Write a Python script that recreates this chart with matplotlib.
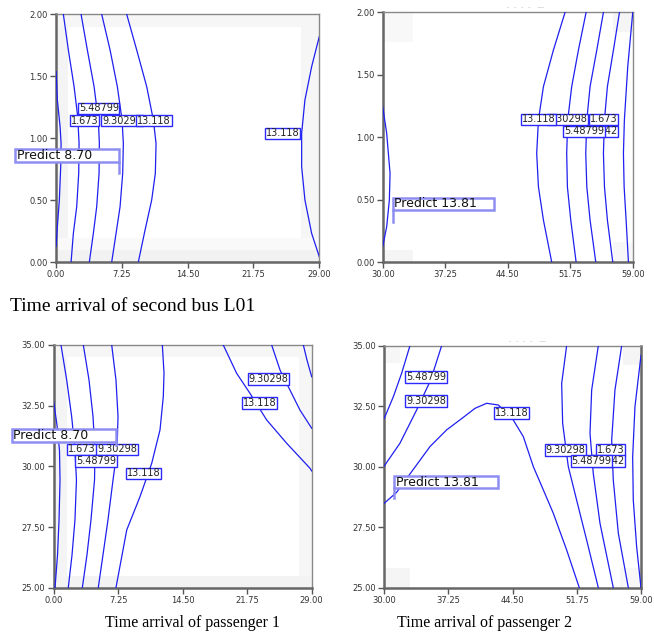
import matplotlib.pyplot as plt
from matplotlib.patches import Rectangle

plt.rcParams['font.family'] = 'DejaVu Sans'

x_ticks_p1 = [0.0, 7.25, 14.5, 21.75, 29.0]
x_ticks_p2 = [30.0, 37.25, 44.5, 51.75, 59.0]
y_ticks_top = [0.0, 0.5, 1.0, 1.5, 2.0]
y_ticks_bot = [25.0, 27.5, 30.0, 32.5, 35.0]

# ---- panel 1 (top left) contour lines ----
p1_m2_x = [0.04, 0.18, 0.48, 0.59, 0.55, 0.40, 0.18, 0.04]
p1_m2_y = [1.537, 1.308, 1.093, 0.958, 0.770, 0.501, 0.285, 0.124]
p1_1_x = [0.84, 1.39, 2.02, 2.42, 2.57, 2.53, 2.31, 1.94, 1.69]
p1_1_y = [2.0, 1.712, 1.416, 1.174, 0.958, 0.716, 0.447, 0.231, 0.0]
p1_5_x = [2.79, 3.48, 4.22, 4.69, 4.80, 4.77, 4.51, 4.14, 3.70]
p1_5_y = [2.0, 1.712, 1.416, 1.147, 0.958, 0.716, 0.447, 0.231, 0.0]
p1_9_x = [5.06, 5.98, 6.78, 7.30, 7.44, 7.37, 7.08, 6.64, 6.16]
p1_9_y = [2.0, 1.712, 1.416, 1.147, 0.958, 0.716, 0.447, 0.231, 0.0]
p1_13_x = [7.81, 8.91, 10.01, 10.74, 11.04, 10.96, 10.56, 9.83, 9.09]
p1_13_y = [2.0, 1.712, 1.416, 1.147, 0.958, 0.716, 0.501, 0.258, 0.0]
p1_13r_x = [29.0, 28.16, 27.42, 27.06, 27.06, 27.42, 28.16, 29.0]
p1_13r_y = [1.820, 1.577, 1.308, 1.039, 0.770, 0.501, 0.231, 0.043]
p1_labels = ['5.48799', '1.673', '9.30298', '13.118', '13.118']
p1_label_x = [4.73, 3.19, 7.30, 10.81, 24.93]
p1_label_y = [1.241, 1.141, 1.141, 1.141, 1.039]

# ---- panel 2 (top right) ----
p2_l_x = [30.0, 30.46, 30.85, 30.77, 30.46, 30.0]
p2_l_y = [1.244, 1.031, 0.710, 0.497, 0.283, 0.123]
p2_y = [2.0, 1.698, 1.405, 1.138, 0.870, 0.603, 0.336, 0.0]
p2_13_x = [51.15, 49.80, 48.64, 48.06, 47.86, 48.06, 48.64, 49.60]
p2_9_x = [53.59, 52.70, 51.92, 51.46, 51.34, 51.42, 51.81, 52.43]
p2_5_x = [55.60, 54.83, 54.05, 53.67, 53.55, 53.67, 54.05, 54.71]
p2_1_x = [57.46, 56.76, 56.06, 55.72, 55.60, 55.72, 56.06, 56.68]
p2_m2_x = [59.0, 58.42, 58.03, 57.92, 58.00, 58.23, 58.50]
p2_m2_y = [2.0, 1.565, 1.138, 0.870, 0.603, 0.336, 0.0]
p2_labels = ['9.30298', '13.118', '1.673', '-2.142', '5.48799']
p2_label_x = [51.46, 48.06, 55.64, 55.40, 53.36]
p2_label_y = [1.143, 1.143, 1.143, 1.047, 1.047]

# ---- panel 3 (bottom left) ----
p3_m2_x = [0.0, 0.37, 0.65, 0.71, 0.60, 0.43, 0.15]
p3_m2_y = [32.66, 31.70, 30.67, 29.44, 27.79, 26.35, 25.0]
p3_y = [35.0, 33.56, 32.05, 30.67, 29.44, 27.79, 26.35, 25.0]
p3_1_x = [0.82, 1.46, 2.02, 2.39, 2.56, 2.39, 2.06, 1.64]
p3_5_x = [3.33, 3.97, 4.42, 4.64, 4.59, 4.19, 3.74, 3.22]
p3_9_x = [6.52, 7.00, 7.23, 7.12, 6.67, 6.10, 5.54, 5.01]
p3_13_x = [12.21, 12.40, 12.32, 11.95, 11.02, 9.70, 8.21, 7.00]
p3_13_y = [35.0, 33.85, 32.87, 31.50, 30.13, 28.75, 27.38, 25.0]
p3_13r_x = [19.06, 20.57, 22.06, 23.94, 26.19, 28.81, 29.0]
p3_13r_y = [35.0, 33.83, 33.01, 31.91, 30.95, 29.92, 29.81]
p3_9r_x = [24.50, 25.44, 26.37, 27.68, 29.0]
p3_9r_y = [35.0, 33.97, 33.28, 32.32, 31.57]
p3_5r_x = [28.06, 28.47, 29.0]
p3_5r_y = [35.0, 34.38, 33.69]
p3_labels = ['9.30298', '13.118', '1.673', '9.30298', '5.48799', '13.118']
p3_label_x = [24.17, 23.11, 3.18, 7.11, 4.73, 10.07]
p3_label_y = [33.60, 32.60, 30.70, 30.70, 30.21, 29.71]

# ---- panel 4 (bottom right) ----
p4_5_x = [30.0, 31.02, 31.96, 32.90]
p4_5_y = [32.00, 32.89, 33.86, 35.0]
p4_9_x = [30.0, 31.77, 33.65, 35.24, 36.48]
p4_9_y = [30.03, 30.97, 32.34, 33.58, 35.0]
p4_13_x = [30.0, 31.39, 33.28, 35.16, 37.04, 38.93, 40.24, 41.56, 42.88,
           44.39, 45.71, 46.84, 47.97, 49.10, 50.60, 52.03]
p4_13_y = [28.49, 28.94, 29.89, 30.83, 31.52, 32.04, 32.41, 32.62, 32.55,
           32.04, 31.24, 30.0, 29.04, 28.07, 26.56, 25.0]
p4_9r_x = [50.60, 50.04, 50.15, 50.79, 51.73, 52.86, 54.18]
p4_9r_y = [35.0, 33.44, 31.79, 30.0, 28.62, 26.97, 25.0]
p4_5r_x = [54.18, 53.43, 53.24, 53.61, 54.37, 55.87]
p4_5r_y = [35.0, 33.17, 31.38, 29.72, 27.66, 25.0]
p4_1r_x = [56.82, 56.06, 55.69, 55.87, 56.44, 57.57]
p4_1r_y = [35.0, 33.17, 31.10, 29.45, 27.25, 25.0]
p4_m2r_x = [59.0, 58.32, 58.06, 58.13, 58.51, 59.0]
p4_m2r_y = [34.6, 32.48, 30.41, 28.62, 26.69, 25.0]
p4_labels = ['5.48799', '9.30298', '13.118', '9.30298', '1.673', '-2.142', '5.48799']
p4_label_x = [34.71, 34.71, 44.39, 50.49, 55.57, 55.37, 53.43]
p4_label_y = [33.705, 32.713, 32.23, 30.70, 30.70, 30.23, 30.23]

pred_text = ['Predict 8.70', 'Predict 13.81', 'Predict 8.70', 'Predict 13.81']
pred_x = [7.0, 31.16, 6.97, 31.09]
pred_y = [0.716, 0.323, 30.88, 28.69]

LINE = '#1f1ff0'
BOX = '#2a2aff'
FLAG = '#8e8ef2'

fig = plt.figure(figsize=(6.54, 6.35), dpi=100)
ax1 = fig.add_axes([0.0852, 0.5874, 0.4030, 0.3901])
ax2 = fig.add_axes([0.5852, 0.5874, 0.3823, 0.3932])
ax3 = fig.add_axes([0.0821, 0.0745, 0.3945, 0.3822])
ax4 = fig.add_axes([0.5876, 0.0745, 0.3925, 0.3811])


def style(ax, xt, yt):
    ax.set_xlim(xt[0], xt[-1])
    ax.set_ylim(yt[0], yt[-1])
    ax.set_xticks(xt)
    ax.set_yticks(yt)
    ax.set_xticklabels(['%.2f' % v for v in xt])
    ax.set_yticklabels(['%.2f' % v for v in yt])
    ax.tick_params(direction='out', length=4, width=1, color='#555555',
                   labelsize=6, labelcolor='#333333', pad=2)
    for s in ['top', 'right']:
        ax.spines[s].set_color('#888888')
        ax.spines[s].set_linewidth(1.0)
    for s in ['left', 'bottom']:
        ax.spines[s].set_color('#666666')
        ax.spines[s].set_linewidth(1.8)


def shade(ax, cells):
    for x0, y0, w, h, c in cells:
        ax.add_patch(Rectangle((x0, y0), w, h, transform=ax.transAxes,
                               fc=c, ec='none', zorder=0))


def labels(ax, txt, xs, ys):
    for t, x, y in zip(txt, xs, ys):
        ax.text(x, y, t, fontsize=7, ha='center', va='center', color='#222222', zorder=6,
                bbox=dict(boxstyle='square,pad=0.08', fc='white', ec=BOX, lw=1.0))


def predict(ax, text, px, py, x0, x1, y0, y1, flag_left):
    ax.add_patch(Rectangle((x0, y0), x1 - x0, y1 - y0, fc='white', ec=FLAG,
                           lw=1.8, clip_on=False, zorder=7))
    fx = x0 if flag_left else x1
    ax.plot([fx, fx], [y0, py], color=FLAG, lw=1.8, clip_on=False, zorder=7)
    ax.text(x0 + (x1 - x0) * 0.015, (y0 + y1) / 2, text, fontsize=9, ha='left',
            va='center', color='#111111', zorder=8, clip_on=False)


style(ax1, x_ticks_p1, y_ticks_top)
style(ax2, x_ticks_p2, y_ticks_top)
style(ax3, x_ticks_p1, y_ticks_bot)
style(ax4, x_ticks_p2, y_ticks_bot)
ax4.spines['right'].set_color('#666666')
ax4.spines['right'].set_linewidth(1.8)

# faint grey rim of the response surface
shade(ax1, [(0, 0, 0.045, 1, '#f4f4f4'), (0.93, 0, 0.07, 1, '#f6f6f6'),
            (0, 0, 1, 0.05, '#f2f2f2'), (0, 0.05, 1, 0.045, '#f9f9f9'),
            (0, 0.95, 1, 0.05, '#f6f6f6')])
shade(ax2, [(0, 0.88, 0.12, 0.12, '#f8f8f8'), (0, 0, 0.12, 0.05, '#f5f5f5'),
            (0.92, 0, 0.08, 0.08, '#f7f7f7'), (0.92, 0.92, 0.08, 0.08, '#f5f5f5')])
shade(ax3, [(0, 0, 0.05, 1, '#f4f4f4'), (0.95, 0, 0.05, 1, '#f6f6f6'),
            (0, 0, 1, 0.05, '#f3f3f3'), (0, 0.95, 1, 0.05, '#f6f6f6')])
shade(ax4, [(0, 0.93, 0.06, 0.07, '#f6f6f6'), (0, 0, 0.1, 0.08, '#f5f5f5'),
            (0.93, 0.92, 0.07, 0.08, '#f5f5f5'), (0.92, 0, 0.08, 0.08, '#f7f7f7')])

for xs, ys in [(p1_m2_x, p1_m2_y), (p1_1_x, p1_1_y), (p1_5_x, p1_5_y),
               (p1_9_x, p1_9_y), (p1_13_x, p1_13_y), (p1_13r_x, p1_13r_y)]:
    ax1.plot(xs, ys, color=LINE, lw=0.9, zorder=3)
for xs, ys in [(p2_l_x, p2_l_y), (p2_13_x, p2_y), (p2_9_x, p2_y), (p2_5_x, p2_y),
               (p2_1_x, p2_y), (p2_m2_x, p2_m2_y)]:
    ax2.plot(xs, ys, color=LINE, lw=0.9, zorder=3)
for xs, ys in [(p3_m2_x, p3_m2_y), (p3_1_x, p3_y), (p3_5_x, p3_y), (p3_9_x, p3_y),
               (p3_13_x, p3_13_y), (p3_13r_x, p3_13r_y), (p3_9r_x, p3_9r_y),
               (p3_5r_x, p3_5r_y)]:
    ax3.plot(xs, ys, color=LINE, lw=0.9, zorder=3)
for xs, ys in [(p4_5_x, p4_5_y), (p4_9_x, p4_9_y), (p4_13_x, p4_13_y),
               (p4_9r_x, p4_9r_y), (p4_5r_x, p4_5r_y), (p4_1r_x, p4_1r_y),
               (p4_m2r_x, p4_m2r_y)]:
    ax4.plot(xs, ys, color=LINE, lw=0.9, zorder=3)

labels(ax1, p1_labels, p1_label_x, p1_label_y)
labels(ax2, p2_labels, p2_label_x, p2_label_y)
labels(ax3, p3_labels, p3_label_x, p3_label_y)
labels(ax4, p4_labels, p4_label_x, p4_label_y)

predict(ax1, pred_text[0], pred_x[0], pred_y[0], -4.47, pred_x[0], 0.805, 0.910, False)
predict(ax2, pred_text[1], pred_x[1], pred_y[1], pred_x[1], 42.91, 0.417, 0.515, True)
predict(ax3, pred_text[2], pred_x[2], pred_y[2], -4.72, pred_x[2], 31.0, 31.54, False)
predict(ax4, pred_text[3], pred_x[3], pred_y[3], pred_x[3], 42.88, 29.105, 29.628, True)

# clipped header remnants above the right panels
fig.text(0.775, 0.989, '-  -  -  -   \u2014', fontsize=5, color='#c0c0c0', va='center')
fig.text(0.778, 0.463, '-  -  -  -   \u2014', fontsize=5, color='#c0c0c0', va='center')

fig.text(0.0153, 0.518, 'Time arrival of second bus L01', fontsize=14,
         family='Liberation Serif', va='center', ha='left')
fig.text(0.2936, 0.0189, 'Time arrival of passenger 1', fontsize=11.5,
         family='Liberation Serif', va='center', ha='center')
fig.text(0.7408, 0.0189, 'Time arrival of passenger 2', fontsize=11.5,
         family='Liberation Serif', va='center', ha='center')

fig.savefig('out.png', dpi=100)
